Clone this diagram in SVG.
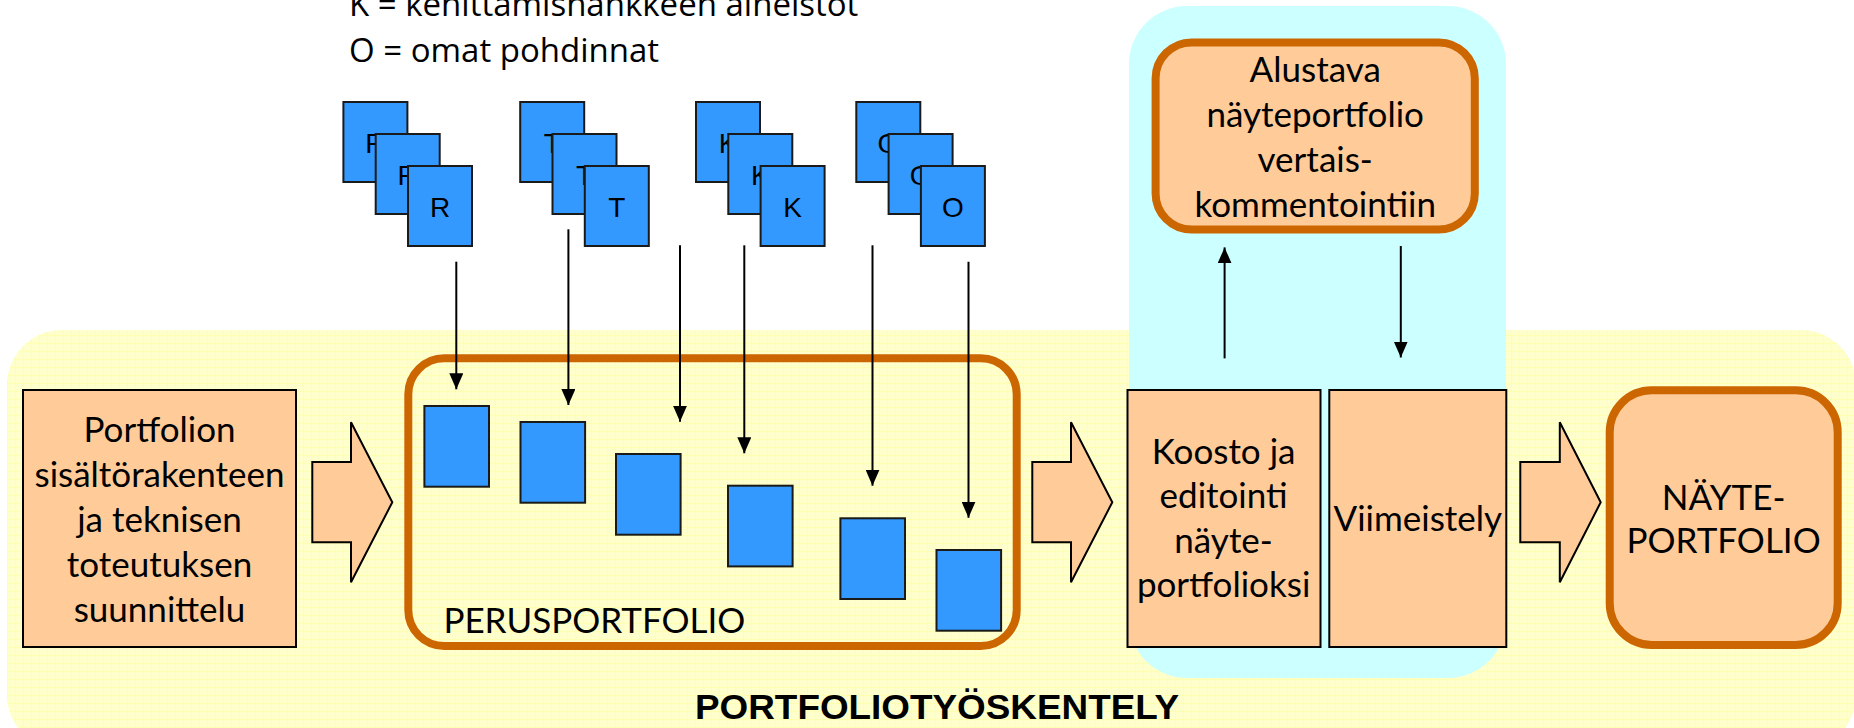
<svg xmlns="http://www.w3.org/2000/svg" width="1854" height="728" viewBox="0 0 1854 728">
<defs>
<pattern id="grid" width="8" height="8" patternUnits="userSpaceOnUse">
<rect width="8" height="8" fill="#FFFFCC"/>
<path d="M8,0 V8 M0,8 H8" stroke="#FFFF99" stroke-width="1" fill="none"/>
</pattern>
<marker id="ah" markerUnits="userSpaceOnUse" markerWidth="16" markerHeight="14" refX="16" refY="7" orient="auto">
<path d="M0,0 L16,7 L0,14 z" fill="#000"/>
</marker>
<style>
.t{font-family:Lato,"Open Sans","Liberation Sans",sans-serif;font-size:35px;fill:#000}
.top{font-family:"Open Sans",Lato,"Liberation Sans",sans-serif;font-size:33px;fill:#000}
.card{fill:#3399FF;stroke:#1a1a1a;stroke-width:2}
.cl{font-family:"Liberation Sans",Arial,sans-serif;font-size:28px;fill:#000;text-anchor:middle}
.box{fill:#FFCC99;stroke:#000;stroke-width:2}
.obox{fill:#FFCC99;stroke:#CC6600;stroke-width:8}
.big{fill:#FFCC99;stroke:#000;stroke-width:2;stroke-linejoin:miter}
.con{stroke:#000;stroke-width:2;fill:none;marker-end:url(#ah)}
.c{text-anchor:middle}
</style>
</defs>

<g id="background">
<rect x="7" y="330" width="1849" height="420" rx="55" fill="url(#grid)"/>
<rect x="1129" y="6" width="377" height="672" rx="58" fill="#CCFFFF"/>
</g>

<g id="legend">
<text class="top" x="349" y="16">K = kehittämishankkeen aineistot</text>
<text class="top" x="349" y="62">O = omat pohdinnat</text>
</g>

<g id="cards-R">
<rect class="card" x="343.4" y="102" width="64" height="80"/><text class="cl" x="375.4" y="153">R</text>
<rect class="card" x="375.7" y="134" width="64" height="80"/><text class="cl" x="407.7" y="185">R</text>
<rect class="card" x="408" y="166" width="64" height="80"/><text class="cl" x="440" y="217">R</text>
</g>
<g id="cards-T">
<rect class="card" x="520.2" y="102" width="64" height="80"/><text class="cl" x="552.2" y="153">T</text>
<rect class="card" x="552.5" y="134" width="64" height="80"/><text class="cl" x="584.5" y="185">T</text>
<rect class="card" x="584.8" y="166" width="64" height="80"/><text class="cl" x="616.8" y="217">T</text>
</g>
<g id="cards-K">
<rect class="card" x="696" y="102" width="64" height="80"/><text class="cl" x="728" y="153">K</text>
<rect class="card" x="728.3" y="134" width="64" height="80"/><text class="cl" x="760.3" y="185">K</text>
<rect class="card" x="760.6" y="166" width="64" height="80"/><text class="cl" x="792.6" y="217">K</text>
</g>
<g id="cards-O">
<rect class="card" x="856.3" y="102" width="64" height="80"/><text class="cl" x="888.3" y="153">O</text>
<rect class="card" x="888.6" y="134" width="64" height="80"/><text class="cl" x="920.6" y="185">O</text>
<rect class="card" x="920.9" y="166" width="64" height="80"/><text class="cl" x="952.9" y="217">O</text>
</g>

<g id="suunnittelu">
<rect class="box" x="23" y="390" width="273" height="257"/>
<text class="t c" x="159.5" y="442">Portfolion</text>
<text class="t c" x="159.5" y="487">sisältörakenteen</text>
<text class="t c" x="159.5" y="532">ja teknisen</text>
<text class="t c" x="159.5" y="577">toteutuksen</text>
<text class="t c" x="159.5" y="622">suunnittelu</text>
</g>

<g id="arrow1"><polygon class="big" points="312.3,462 351,462 351,422.3 392.3,502.3 351,582.3 351,542.3 312.3,542.3"/></g>

<g id="perusportfolio">
<rect x="408.3" y="358.3" width="608.4" height="287.7" rx="36" fill="none" stroke="#CC6600" stroke-width="8"/>
<rect class="card" x="424.4" y="406" width="64.6" height="80.7"/>
<rect class="card" x="520.5" y="422" width="64.6" height="80.7"/>
<rect class="card" x="616" y="454" width="64.6" height="80.7"/>
<rect class="card" x="728" y="485.7" width="64.6" height="80.7"/>
<rect class="card" x="840.4" y="518.3" width="64.6" height="80.7"/>
<rect class="card" x="936.5" y="550" width="64.6" height="80.7"/>
<text class="t" x="443.4" y="633">PERUSPORTFOLIO</text>
</g>

<g id="arrow2"><polygon class="big" points="1032.3,462 1071,462 1071,422.3 1112.3,502.3 1071,582.3 1071,542.3 1032.3,542.3"/></g>

<g id="koosto">
<rect class="box" x="1127.5" y="390" width="193" height="257"/>
<text class="t c" x="1223.6" y="464">Koosto ja</text>
<text class="t c" x="1223.6" y="508">editointi</text>
<text class="t c" x="1223.6" y="553">näyte-</text>
<text class="t c" x="1223.6" y="597">portfolioksi</text>
</g>

<g id="viimeistely">
<rect class="box" x="1329.3" y="390" width="177" height="257"/>
<text class="t c" x="1417.8" y="531">Viimeistely</text>
</g>

<g id="alustava">
<rect class="obox" x="1155.6" y="42.4" width="319.2" height="187.1" rx="36"/>
<text class="t c" x="1315.2" y="82">Alustava</text>
<text class="t c" x="1315.2" y="127">näyteportfolio</text>
<text class="t c" x="1315.2" y="172">vertais-</text>
<text class="t c" x="1315.2" y="217">kommentointiin</text>
</g>

<g id="arrow3"><polygon class="big" points="1520.3,462 1559.8,462 1559.8,422.3 1600.7,502.3 1559.8,582.3 1559.8,542.3 1520.3,542.3"/></g>

<g id="nayteportfolio">
<rect class="obox" x="1609.7" y="390.3" width="228" height="254.7" rx="42"/>
<text class="t c" x="1723.6" y="510">NÄYTE-</text>
<text class="t c" x="1723.6" y="553">PORTFOLIO</text>
</g>

<g id="title">
<text x="937" y="719" font-family="'Liberation Sans',Arial,sans-serif" font-weight="bold" font-size="35" text-anchor="middle" textLength="484" lengthAdjust="spacingAndGlyphs">PORTFOLIOTYÖSKENTELY</text>
</g>

<g id="connectors">
<line class="con" x1="456.3" y1="261.7" x2="456.3" y2="389.3"/>
<line class="con" x1="568.4" y1="229.3" x2="568.4" y2="405"/>
<line class="con" x1="680" y1="245.3" x2="680" y2="421.7"/>
<line class="con" x1="744.3" y1="245.3" x2="744.3" y2="453.3"/>
<line class="con" x1="872.5" y1="245.3" x2="872.5" y2="485.7"/>
<line class="con" x1="968.5" y1="261.7" x2="968.5" y2="517.7"/>
<line class="con" x1="1224.6" y1="358.4" x2="1224.6" y2="247.4"/>
<line class="con" x1="1400.8" y1="246" x2="1400.8" y2="357.5"/>
</g>
</svg>
